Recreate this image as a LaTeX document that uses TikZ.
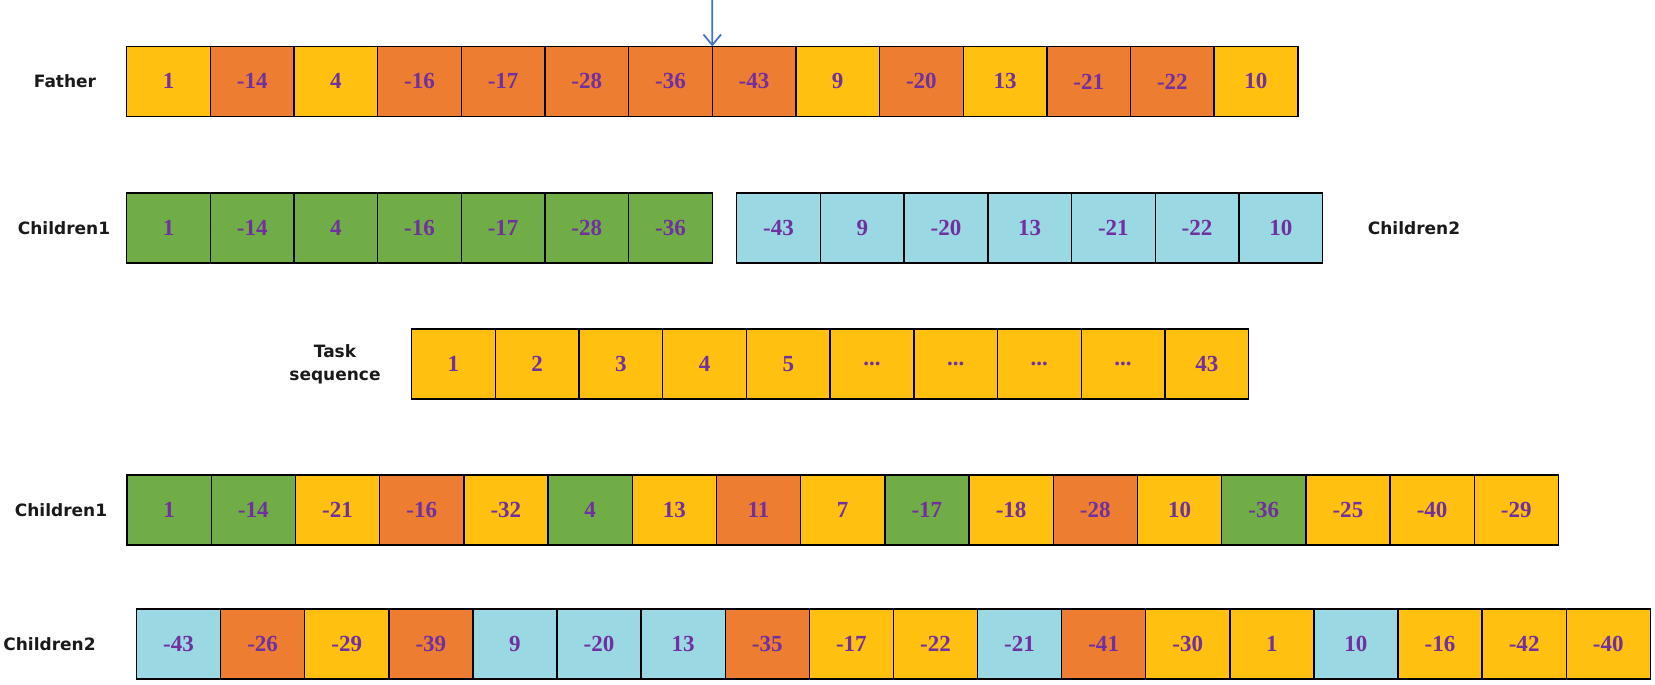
\documentclass[tikz,border=0pt]{standalone}
\usepackage{fontspec}
\setmainfont{Liberation Serif}
\newfontfamily\labfont{DejaVu Sans}
\usetikzlibrary{arrows.meta}
\definecolor{cY}{HTML}{FFC010}
\definecolor{cO}{HTML}{ED7D31}
\definecolor{cG}{HTML}{70AD47}
\definecolor{cC}{HTML}{9AD8E3}
\definecolor{numc}{HTML}{7030A0}
\definecolor{arrowc}{HTML}{4472C4}
\definecolor{labc}{HTML}{1A1A1A}
\newcommand{\tdots}{...}
\newcommand{\cellrow}[5]{%
  \foreach \v/\c [count=\i] in {#5} {
    \node[cell, fill=c\c, minimum width=#4*0.02cm] (#1\i) at ({#2+(\i-1)*#4},#3) {\v};
  }}
\begin{document}
\begin{tikzpicture}[x=0.02cm,y=-0.02cm,
  cell/.style={draw=black, line width=0.8pt, anchor=north west, inner sep=0pt, outer sep=0pt,
    minimum height=1.4cm, text=numc, font=\bfseries\fontsize{13.1}{15}\selectfont},
  lab/.style={text=labc, align=center, inner sep=0pt,
    font=\labfont\bfseries\fontsize{9.67}{13.1}\selectfont},
  cut/.style={draw=arrowc, line width=1pt, -{Straight Barb[length=6pt,width=10pt]}}]
\useasboundingbox (0,0) rectangle (1655,684);
% Father
\cellrow{f}{126.7}{46.4}{83.65}{1/Y,-14/O,4/Y,-16/O,-17/O,-28/O,-36/O,-43/O,9/Y,-20/O,13/Y,-21/O,-22/O,10/Y}
\node[lab] (lfather) at (65,81.4) {Father};
\coordinate (arrtop) at (712.25,0);
\draw[cut] (arrtop) -- (f8.north west);
% Children split
\cellrow{a}{126.7}{193}{83.65}{1/G,-14/G,4/G,-16/G,-17/G,-28/G,-36/G}
\cellrow{b}{736.7}{193}{83.7}{-43/C,9/C,-20/C,13/C,-21/C,-22/C,10/C}
\node[lab] (lc1a) at (64,228) {Children1};
\node[lab] (lc2a) at (1414,228) {Children2};
% Task sequence
\cellrow{t}{411.6}{329}{83.7}{1/Y,2/Y,3/Y,4/Y,5/Y,\tdots/Y,\tdots/Y,\tdots/Y,\tdots/Y,43/Y}
\node[lab] (ltask) at (335,364) {Task\\sequence};
% Children1 new
\cellrow{c}{127}{475}{84.2}{1/G,-14/G,-21/Y,-16/O,-32/Y,4/G,13/Y,11/O,7/Y,-17/G,-18/Y,-28/O,10/Y,-36/G,-25/Y,-40/Y,-29/Y}
\node[lab] (lc1b) at (61,510) {Children1};
% Children2 new
\cellrow{d}{136.5}{609}{84.1}{-43/C,-26/O,-29/Y,-39/O,9/C,-20/C,13/C,-35/O,-17/Y,-22/Y,-21/C,-41/O,-30/Y,1/Y,10/C,-16/Y,-42/Y,-40/Y}
\node[lab] (lc2b) at (49.5,644) {Children2};
\end{tikzpicture}
\end{document}
